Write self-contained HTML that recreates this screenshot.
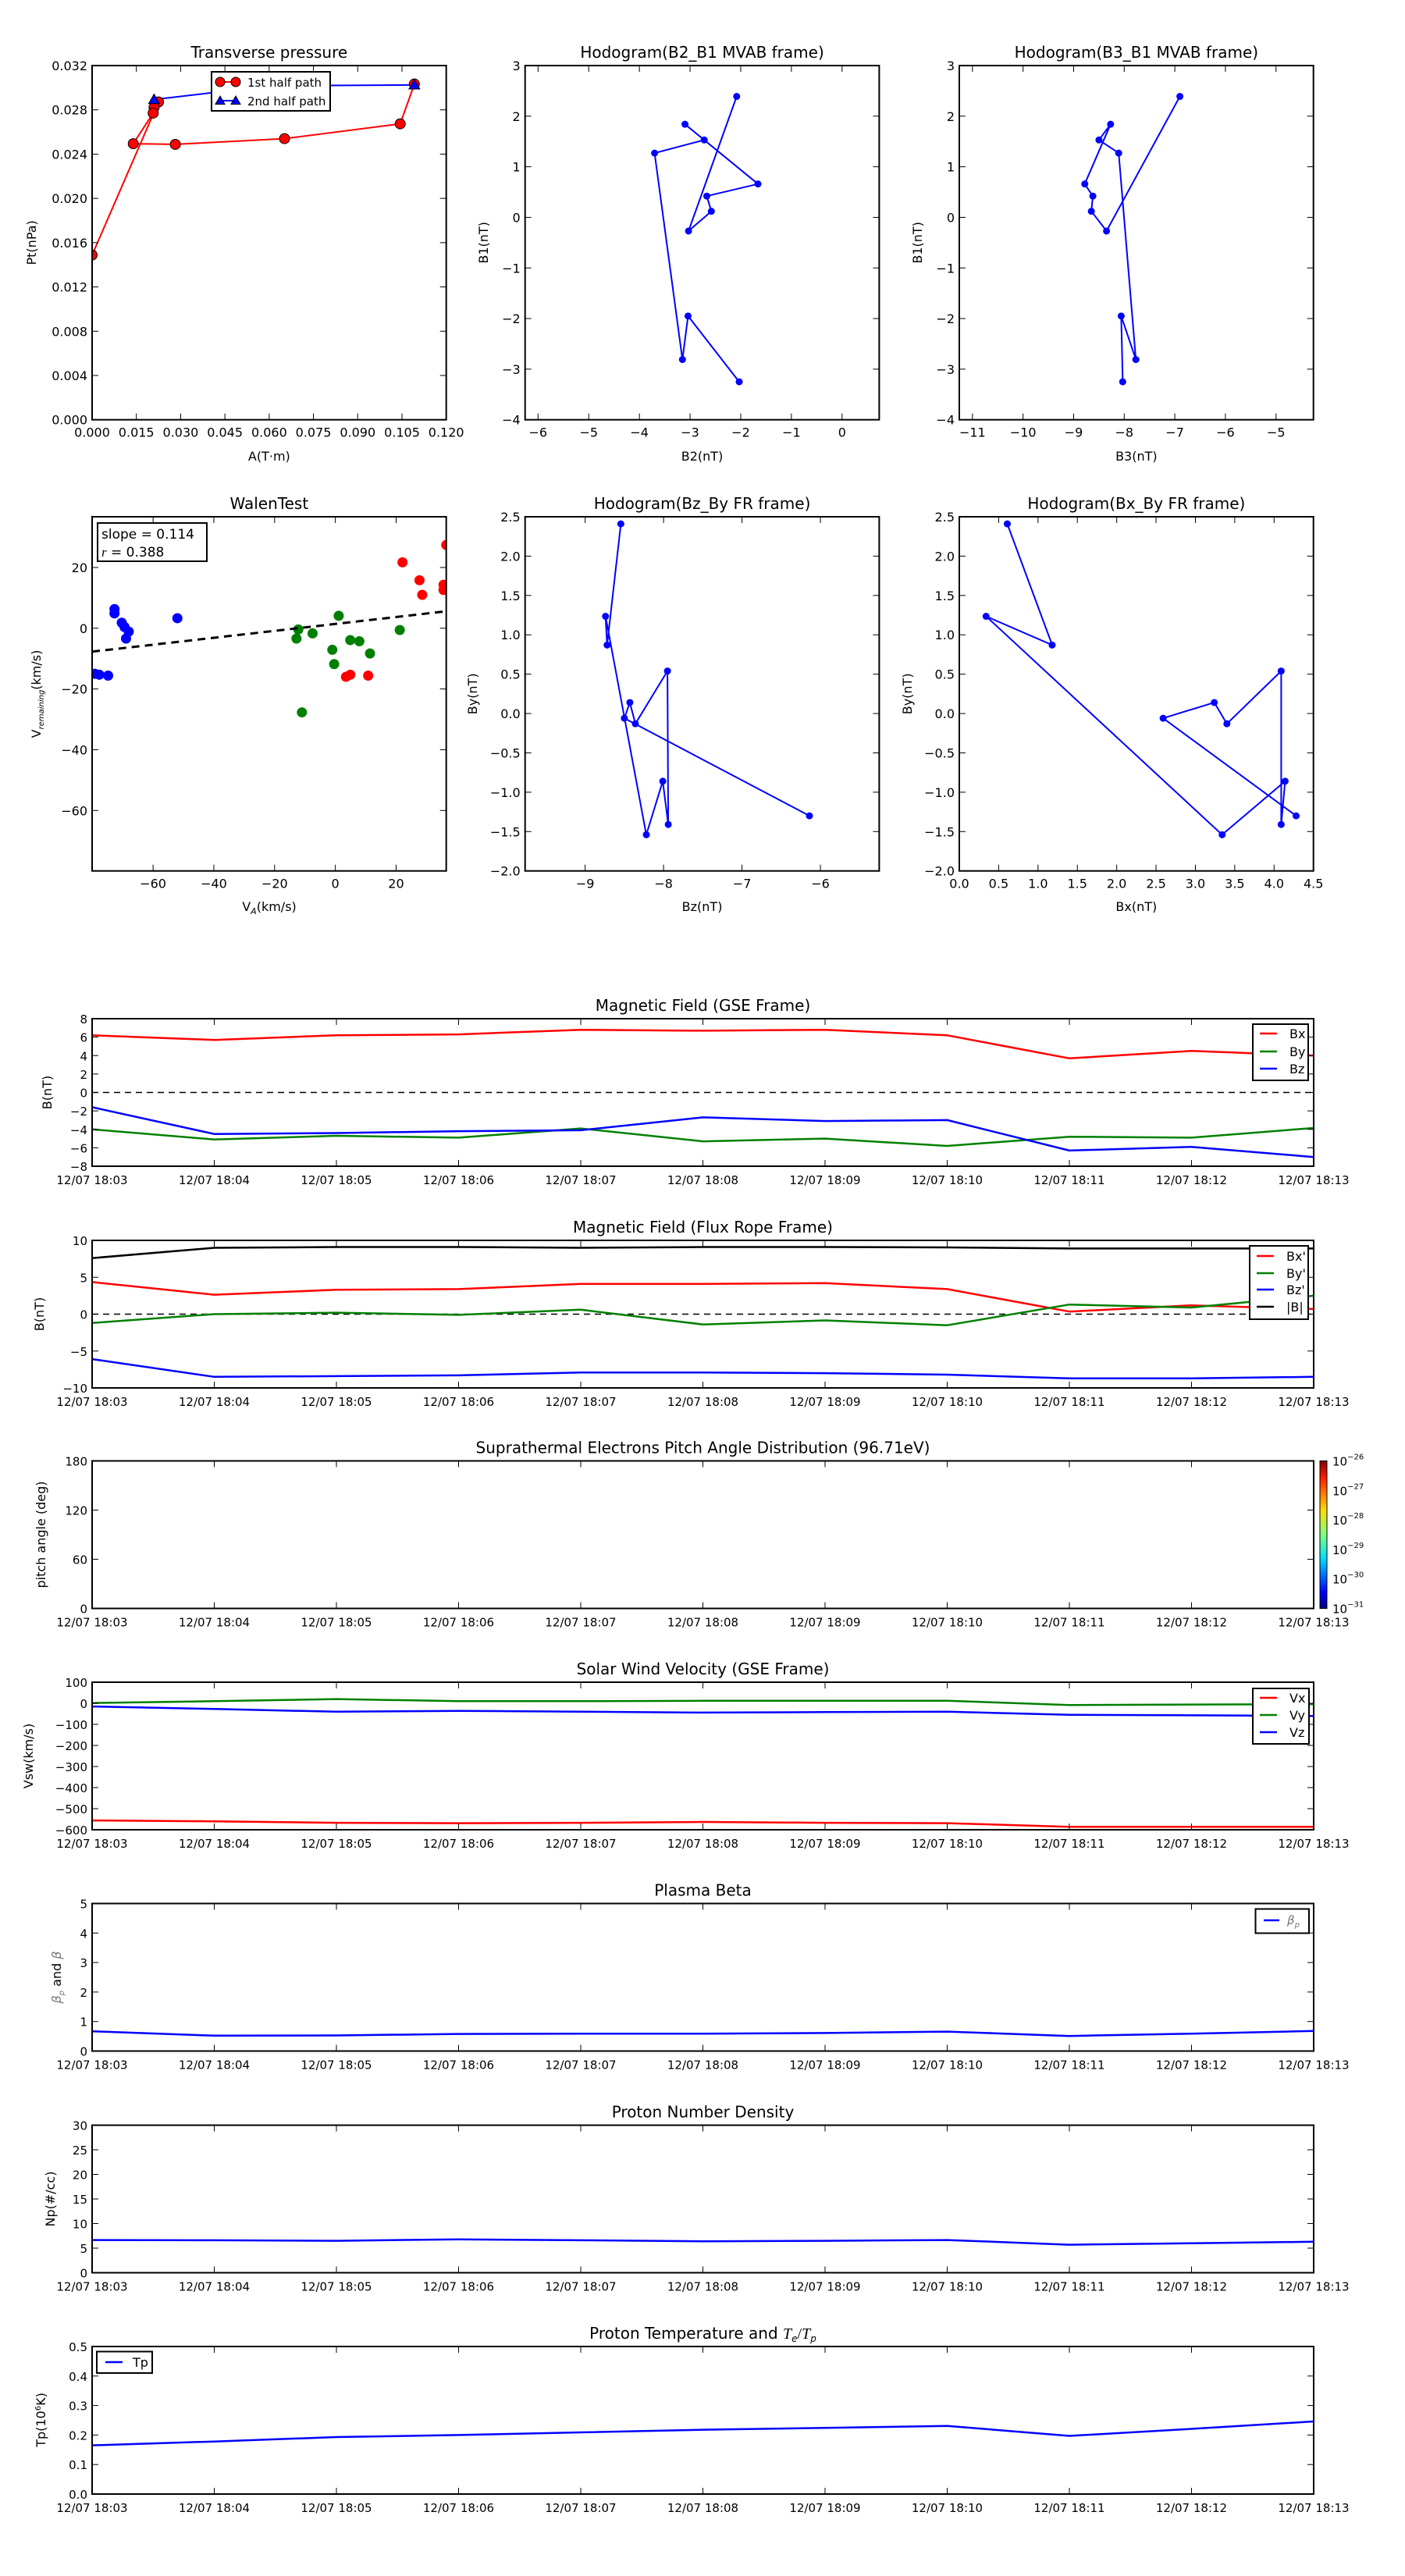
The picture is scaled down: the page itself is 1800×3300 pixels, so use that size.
<!DOCTYPE html>
<html><head><meta charset="utf-8"><title>Flux rope analysis</title>
<style>
html,body{margin:0;padding:0;background:#fff;}
svg{display:block;font-family:"DejaVu Sans","Liberation Sans",sans-serif;}
</style></head>
<body>
<svg id="fig" width="1800" height="3300" viewBox="0 0 1800 3300" xmlns="http://www.w3.org/2000/svg">
<defs>
<linearGradient id="jet" x1="0" y1="1" x2="0" y2="0">
<stop offset="0" stop-color="#00007f"/><stop offset="0.11" stop-color="#0000ff"/><stop offset="0.34" stop-color="#00e0ff"/><stop offset="0.5" stop-color="#7fff7f"/><stop offset="0.66" stop-color="#ffe000"/><stop offset="0.89" stop-color="#ff1a00"/><stop offset="1" stop-color="#7f0000"/>
</linearGradient>
</defs>
</svg>
<script>
// ---------- data ----------
const tpRedA=[0,0.0225,0.0210,0.0207,0.01395,0.0282,0.0652,0.1044,0.1092];
const tpRedPt=[0.01488,0.02871,0.02822,0.02771,0.02494,0.02488,0.0254,0.02674,0.03033];
const tpBlueA=[0.0210,0.0404,0.0800,0.1092];
const tpBluePt=[0.02893,0.02954,0.03020,0.03025];
const tpXTicks=[0,0.015,0.03,0.045,0.06,0.075,0.09,0.105,0.12];
const tpYTicks=[0,0.004,0.008,0.012,0.016,0.02,0.024,0.028,0.032];

const mvB1=[2.39,-0.27,0.12,0.42,0.66,1.84,1.53,1.27,-2.81,-1.95,-3.25];
const mvB2=[-2.08,-3.03,-2.58,-2.67,-1.66,-3.10,-2.72,-3.70,-3.15,-3.04,-2.03];
const mvB3=[-6.90,-8.35,-8.65,-8.62,-8.78,-8.27,-8.50,-8.11,-7.77,-8.06,-8.03];

const walenBlueX=[-72.7,-72.7,-70.3,-69.4,-68,-68.9,-52,-79.2,-77.7,-74.8];
const walenBlueY=[6.3,4.9,1.8,0.4,-1.1,-3.4,3.3,-15,-15.3,-15.6];
const walenGreenX=[-12.2,-12.8,-7.5,1.1,-1,-0.4,4.9,7.9,11.4,21.2,-11];
const walenGreenY=[-0.4,-3.4,-1.7,4.1,-7.1,-11.8,-3.9,-4.3,-8.3,-0.6,-27.7];
const walenRedX=[22.1,27.7,28.6,35.6,35.6,36.5,3.5,4.9,10.8];
const walenRedY=[21.7,15.8,11,14.3,12.6,27.4,-16,-15.3,-15.6];
const walenSlope=0.114;
const walenIntercept=1.42;

const frHodoBx=[0.61,1.18,0.34,3.34,4.14,4.09,4.09,3.40,3.24,2.59,4.28];
const frHodoBy=[2.41,0.87,1.235,-1.54,-0.86,-1.41,0.54,-0.13,0.14,-0.06,-1.30];
const frHodoBz=[-8.545,-8.72,-8.74,-8.22,-8.01,-7.94,-7.95,-8.36,-8.43,-8.5,-6.14];

const minutes=[0,1,2,3,4,5,6,7,8,9,10];
const timeLabels=['12/07 18:03','12/07 18:04','12/07 18:05','12/07 18:06','12/07 18:07','12/07 18:08','12/07 18:09','12/07 18:10','12/07 18:11','12/07 18:12','12/07 18:13'];
const gseBx=[6.2,5.7,6.2,6.3,6.8,6.7,6.8,6.2,3.7,4.5,4.0];
const gseBy=[-4.0,-5.1,-4.7,-4.9,-3.9,-5.3,-5.0,-5.8,-4.8,-4.9,-3.85];
const gseBz=[-1.6,-4.5,-4.4,-4.2,-4.1,-2.7,-3.1,-3.0,-6.3,-5.9,-7.0];
const frBx=[4.35,2.64,3.3,3.4,4.1,4.1,4.2,3.4,0.35,1.2,0.7];
const frBy=[-1.2,0,0.2,-0.1,0.6,-1.4,-0.85,-1.5,1.3,0.9,2.5];
const frBz=[-6.1,-8.5,-8.4,-8.3,-7.9,-7.9,-8.0,-8.2,-8.7,-8.7,-8.5];
const frBt=[7.6,9.0,9.1,9.1,9.0,9.1,9.1,9.05,8.9,8.9,8.9];
const swVx=[-556,-560,-567,-569,-567,-563,-567,-569,-586,-586,-586];
const swVy=[1,10,20,10,10,12,12,12,-8,-6,-4];
const swVz=[-15,-27,-40,-36,-40,-44,-42,-40,-55,-57,-60];
const betaP=[0.67,0.52,0.53,0.58,0.59,0.59,0.61,0.66,0.51,0.59,0.68];
const density=[6.65,6.6,6.5,6.8,6.6,6.4,6.5,6.65,5.7,6.0,6.3];
const tempP=[0.165,0.178,0.193,0.200,0.209,0.218,0.224,0.231,0.197,0.221,0.246];
const cbarExps=['-31','-30','-29','-28','-27','-26'];

// ---------- helpers ----------
const NS='http://www.w3.org/2000/svg';
const svg=document.getElementById('fig');
function mk(tag,attrs,parent,name,inter){
  const e=document.createElementNS(NS,tag);
  for(const k in attrs) e.setAttribute(k,attrs[k]);
  
  
  (parent||svg).appendChild(e);
  return e;
}
function txt(parent,x,y,s,size,anchor,name,extra){
  const a={x:x,y:y,'font-size':size,'text-anchor':anchor||'middle',fill:'#000'};
  if(extra) for(const k in extra) a[k]=extra[k];
  const t=mk('text',a,parent,name,false);
  t.textContent=s;
  return t;
}
function fmtMinus(s){return String(s).replace('-','\u2212');}
let clipId=0;
function panel(o){
  const g=mk('g',{},svg,o.name+'-panel',false);
  const sx=v=>o.x+(v-o.xmin)/(o.xmax-o.xmin)*o.w;
  const sy=v=>o.y+o.h-(v-o.ymin)/(o.ymax-o.ymin)*o.h;
  const cid='clip'+(clipId++);
  const cp=mk('clipPath',{id:cid},g,o.name+'-clip',false);
  mk('rect',{x:o.x,y:o.y,width:o.w,height:o.h},cp,o.name+'-clip-rect',false);
  const plot=mk('g',{'clip-path':'url(#'+cid+')'},g,o.name+'-plot-area',false);
  const tl=8, fs=o.fs||16;
  (o.xticks||[]).forEach((v,i)=>{
    const X=sx(v);
    mk('line',{x1:X,y1:o.y+o.h,x2:X,y2:o.y+o.h-tl,stroke:'#000','stroke-width':1},g,'x-tick',false);
    mk('line',{x1:X,y1:o.y,x2:X,y2:o.y+tl,stroke:'#000','stroke-width':1},g,'x-tick-top',false);
    const lab=o.xlabels?o.xlabels[i]:fmtMinus(o.xfmt?o.xfmt(v):v);
    txt(g,X,o.y+o.h+(o.xlabOff||22),lab,fs,'middle','x-tick-label');
  });
  (o.yticks||[]).forEach(v=>{
    const Y=sy(v);
    mk('line',{x1:o.x,y1:Y,x2:o.x+tl,y2:Y,stroke:'#000','stroke-width':1},g,'y-tick',false);
    mk('line',{x1:o.x+o.w,y1:Y,x2:o.x+o.w-tl,y2:Y,stroke:'#000','stroke-width':1},g,'y-tick-right',false);
    txt(g,o.x-6,Y+6,fmtMinus(o.yfmt?o.yfmt(v):v),fs,'end','y-tick-label');
  });
  if(o.title) txt(g,o.x+o.w/2,o.y-10,o.title,20,'middle','chart-title');
  if(o.xlabel) txt(g,o.x+o.w/2,o.xlabY,o.xlabel,16,'middle','x-axis-title');
  if(o.ylabel){
    const cy=o.y+o.h/2;
    txt(g,o.ylabX,cy,o.ylabel,16,'middle','y-axis-title',{transform:'rotate(-90 '+o.ylabX+' '+cy+')'});
  }
  return {g,plot,sx,sy,finish:()=>mk('rect',{x:o.x,y:o.y,width:o.w,height:o.h,fill:'none',stroke:'#000','stroke-width':2},g,o.name+'-frame',false)};
}
function polyline(P,xs,ys,color,w,name,dash){
  const pts=xs.map((v,i)=>P.sx(v).toFixed(1)+','+P.sy(ys[i]).toFixed(1)).join(' ');
  const a={points:pts,fill:'none',stroke:color,'stroke-width':w,'stroke-linejoin':'round'};
  if(dash) a['stroke-dasharray']=dash;
  return mk('polyline',a,P.plot,name,false);
}
function dots(P,xs,ys,color,r,name,stroke){
  xs.forEach((v,i)=>{
    const a={cx:P.sx(v),cy:P.sy(ys[i]),r:r,fill:color};
    if(stroke){a.stroke='#000';a['stroke-width']=1;}
    mk('circle',a,P.plot,name,false);
  });
}
function tri(parent,cx,cy,s,name){
  return mk('polygon',{points:(cx)+','+(cy-s)+' '+(cx-s)+','+(cy+s*0.75)+' '+(cx+s)+','+(cy+s*0.75),fill:'#0000ff',stroke:'#000','stroke-width':1},parent,name,false);
}
const W=453.7;
const C1=118, C2=672.7, C3=1229;
const R1=84, R2=662;

// ---------- Transverse pressure ----------
(function(){
  const P=panel({name:'transverse-pressure',x:C1,y:R1,w:W,h:W,xmin:0,xmax:0.12,ymin:0,ymax:0.032,
    xticks:tpXTicks,yticks:tpYTicks,xfmt:v=>v.toFixed(3),yfmt:v=>v.toFixed(3),
    title:'Transverse pressure',xlabel:'A(T\u00b7m)',xlabY:590,ylabel:'Pt(nPa)',ylabX:46});
  polyline(P,tpRedA,tpRedPt,'#ff0000',2,'first-half-path-line');
  polyline(P,tpBlueA,tpBluePt,'#0000ff',2,'second-half-path-line');
  dots(P,tpRedA,tpRedPt,'#ff0000',6.5,'first-half-path-marker',true);
  [0,tpBlueA.length-1].forEach(i=>tri(P.plot,P.sx(tpBlueA[i]),P.sy(tpBluePt[i]),7,'second-half-path-marker'));
  P.finish();
  const L=mk('g',{},svg,'pressure-legend',false);
  mk('rect',{x:271,y:92,width:152,height:50,fill:'#fff',stroke:'#000','stroke-width':2},L,'legend-box',false);
  mk('line',{x1:282,y1:105,x2:302,y2:105,stroke:'#ff0000','stroke-width':2},L,'legend-line-first',false);
  mk('circle',{cx:282,cy:105,r:6,fill:'#ff0000',stroke:'#000'},L,'legend-marker-first',false);
  mk('circle',{cx:302,cy:105,r:6,fill:'#ff0000',stroke:'#000'},L,'legend-marker-first',false);
  txt(L,317,111,'1st half path',15,'start','legend-entry-first');
  mk('line',{x1:282,y1:129,x2:302,y2:129,stroke:'#0000ff','stroke-width':2},L,'legend-line-second',false);
  tri(L,282,129,6,'legend-marker-second');
  tri(L,302,129,6,'legend-marker-second');
  txt(L,317,135,'2nd half path',15,'start','legend-entry-second');
})();

// ---------- MVAB hodograms ----------
(function(){
  const P=panel({name:'hodogram-b2-b1',x:C2,y:R1,w:W,h:W,xmin:-6.256,xmax:0.733,ymin:-4,ymax:3,
    xticks:[-6,-5,-4,-3,-2,-1,0],yticks:[-4,-3,-2,-1,0,1,2,3],
    title:'Hodogram(B2_B1 MVAB frame)',xlabel:'B2(nT)',xlabY:590,ylabel:'B1(nT)',ylabX:625});
  polyline(P,mvB2,mvB1,'#0000ff',2,'hodogram-b2-b1-line');
  dots(P,mvB2,mvB1,'#0000ff',4.5,'hodogram-b2-b1-point');
  P.finish();
  const Q=panel({name:'hodogram-b3-b1',x:C3,y:R1,w:W,h:W,xmin:-11.26,xmax:-4.26,ymin:-4,ymax:3,
    xticks:[-11,-10,-9,-8,-7,-6,-5],yticks:[-4,-3,-2,-1,0,1,2,3],
    title:'Hodogram(B3_B1 MVAB frame)',xlabel:'B3(nT)',xlabY:590,ylabel:'B1(nT)',ylabX:1181});
  polyline(Q,mvB3,mvB1,'#0000ff',2,'hodogram-b3-b1-line');
  dots(Q,mvB3,mvB1,'#0000ff',4.5,'hodogram-b3-b1-point');
  Q.finish();
})();

// ---------- Walen test ----------
(function(){
  const P=panel({name:'walen-test',x:C1,y:R2,w:W,h:W,xmin:-80.07,xmax:36.5,ymin:-79.9,ymax:36.7,
    xticks:[-60,-40,-20,0,20],yticks:[-60,-40,-20,0,20],
    title:'WalenTest',xlabel:'',xlabY:0,ylabel:'',ylabX:0});
  dots(P,walenBlueX,walenBlueY,'#0000ff',6.5,'walen-point-blue');
  dots(P,walenGreenX,walenGreenY,'#008000',6.5,'walen-point-green');
  dots(P,walenRedX,walenRedY,'#ff0000',6.5,'walen-point-red');
  const fx=[-80.07,36.5];
  polyline(P,fx,fx.map(v=>walenSlope*v+walenIntercept),'#000',3,'walen-fit-line','10,7');
  P.finish();
  const xl=txt(svg,345,1167,'V',16,'middle','x-axis-title');
  const ts=document.createElementNS(NS,'tspan');ts.setAttribute('font-size','11');ts.setAttribute('font-style','italic');ts.setAttribute('dy','4');ts.textContent='A';xl.appendChild(ts);
  const ts2=document.createElementNS(NS,'tspan');ts2.setAttribute('dy','-4');ts2.textContent='(km/s)';xl.appendChild(ts2);
  const yl=txt(svg,52,889,'V',16,'middle','y-axis-title',{transform:'rotate(-90 52 889)'});
  const t3=document.createElementNS(NS,'tspan');t3.setAttribute('font-size','10');t3.setAttribute('font-style','italic');t3.setAttribute('dy','4');t3.textContent='remaining';yl.appendChild(t3);
  const t4=document.createElementNS(NS,'tspan');t4.setAttribute('dy','-4');t4.textContent='(km/s)';yl.appendChild(t4);
  const L=mk('g',{},svg,'walen-stats-box',false);
  mk('rect',{x:125,y:670,width:140,height:49,fill:'#fff',stroke:'#000','stroke-width':2},L,'stats-box',false);
  txt(L,130,690,'slope = 0.114',17,'start','slope-text');
  const r=txt(L,130,713,'',17,'start','r-text');
  const ri=document.createElementNS(NS,'tspan');ri.setAttribute('font-style','italic');ri.setAttribute('font-family','Liberation Serif, serif');ri.textContent='r';r.appendChild(ri);
  const rv=document.createElementNS(NS,'tspan');rv.textContent=' = 0.388';r.appendChild(rv);
})();

// ---------- FR hodograms ----------
(function(){
  const f1=v=>v.toFixed(1);
  const P=panel({name:'hodogram-bz-by',x:C2,y:R2,w:W,h:W,xmin:-9.766,xmax:-5.25,ymin:-2,ymax:2.5,
    xticks:[-9,-8,-7,-6],yticks:[-2,-1.5,-1,-0.5,0,0.5,1,1.5,2,2.5],yfmt:f1,
    title:'Hodogram(Bz_By FR frame)',xlabel:'Bz(nT)',xlabY:1167,ylabel:'By(nT)',ylabX:611});
  polyline(P,frHodoBz,frHodoBy,'#0000ff',2,'hodogram-bz-by-line');
  dots(P,frHodoBz,frHodoBy,'#0000ff',4.5,'hodogram-bz-by-point');
  P.finish();
  const Q=panel({name:'hodogram-bx-by',x:C3,y:R2,w:W,h:W,xmin:0,xmax:4.5,ymin:-2,ymax:2.5,
    xticks:[0,0.5,1,1.5,2,2.5,3,3.5,4,4.5],xfmt:f1,yticks:[-2,-1.5,-1,-0.5,0,0.5,1,1.5,2,2.5],yfmt:f1,
    title:'Hodogram(Bx_By FR frame)',xlabel:'Bx(nT)',xlabY:1167,ylabel:'By(nT)',ylabX:1168});
  polyline(Q,frHodoBx,frHodoBy,'#0000ff',2,'hodogram-bx-by-line');
  dots(Q,frHodoBx,frHodoBy,'#0000ff',4.5,'hodogram-bx-by-point');
  Q.finish();
})();

// ---------- time series ----------
function tpanel(name,y,ymin,ymax,yticks,title,ylabel,ylabX,yfmt){
  return panel({name:name,x:118,y:y,w:1565,h:189,xmin:0,xmax:10,ymin:ymin,ymax:ymax,
    xticks:minutes,xlabels:timeLabels,yticks:yticks,yfmt:yfmt,fs:15,xlabOff:23,
    title:title,ylabel:ylabel,ylabX:ylabX});
}
function legend(name,x,y,w,h,entries,lineX,textX){
  const L=mk('g',{},svg,name,false);
  mk('rect',{x:x,y:y,width:w,height:h,fill:'#fff',stroke:'#000','stroke-width':2},L,'legend-box',false);
  entries.forEach(e=>{
    mk('line',{x1:lineX,y1:e[2],x2:lineX+22,y2:e[2],stroke:e[1],'stroke-width':2.5},L,'legend-line',false);
    txt(L,textX,e[2]+6,e[0],16,'start','legend-entry');
  });
  return L;
}
(function(){
  const P=tpanel('magnetic-field-gse',1305,-8,8,[-8,-6,-4,-2,0,2,4,6,8],'Magnetic Field (GSE Frame)','B(nT)',66);
  polyline(P,[0,10],[0,0],'#000',1.5,'zero-line','8,6');
  polyline(P,minutes,gseBx,'#ff0000',2.5,'series-bx');
  polyline(P,minutes,gseBy,'#008000',2.5,'series-by');
  polyline(P,minutes,gseBz,'#0000ff',2.5,'series-bz');
  P.finish();
  legend('gse-legend',1605,1312,71,72,[['Bx','#ff0000',1324],['By','#008000',1347],['Bz','#0000ff',1369]],1614,1652);
})();
(function(){
  const P=tpanel('magnetic-field-fr',1589,-10,10,[-10,-5,0,5,10],'Magnetic Field (Flux Rope Frame)','B(nT)',56);
  polyline(P,[0,10],[0,0],'#000',1.5,'zero-line','8,6');
  polyline(P,minutes,frBx,'#ff0000',2.5,'series-bx-prime');
  polyline(P,minutes,frBy,'#008000',2.5,'series-by-prime');
  polyline(P,minutes,frBz,'#0000ff',2.5,'series-bz-prime');
  polyline(P,minutes,frBt,'#000',2.5,'series-btotal');
  P.finish();
  legend('fr-legend',1601,1596,75,94,[["Bx'",'#ff0000',1609],["By'",'#008000',1631],["Bz'",'#0000ff',1652],['|B|','#000',1674]],1610,1648);
})();
(function(){
  const P=tpanel('pitch-angle',1871.5,0,180,[0,60,120,180],'Suprathermal Electrons Pitch Angle Distribution (96.71eV)','pitch angle (deg)',58);
  P.finish();
  const C=mk('g',{},svg,'colorbar',false);
  mk('rect',{x:1691,y:1871.5,width:9,height:189,fill:'url(#jet)',stroke:'#000','stroke-width':1},C,'colorbar-gradient',false);
  cbarExps.forEach((e,i)=>{
    const Y=2060.5-i*189/5;
    const t=txt(C,1707,Y+6,'10',15,'start','colorbar-label');
    const s=document.createElementNS(NS,'tspan');s.setAttribute('font-size','10');s.setAttribute('dy','-8');s.textContent=fmtMinus(e);t.appendChild(s);
  });
})();
(function(){
  const P=tpanel('solar-wind-velocity',2155,-600,100,[-600,-500,-400,-300,-200,-100,0,100],'Solar Wind Velocity (GSE Frame)','Vsw(km/s)',42);
  polyline(P,minutes,swVx,'#ff0000',2.5,'series-vx');
  polyline(P,minutes,swVy,'#008000',2.5,'series-vy');
  polyline(P,minutes,swVz,'#0000ff',2.5,'series-vz');
  P.finish();
  legend('velocity-legend',1605,2163,72,71,[['Vx','#ff0000',2175],['Vy','#008000',2197],['Vz','#0000ff',2219]],1614,1652);
})();
(function(){
  const P=tpanel('plasma-beta',2438.5,0,5,[0,1,2,3,4,5],'Plasma Beta','',0);
  polyline(P,minutes,betaP,'#0000ff',2.5,'series-beta-p');
  P.finish();
  const yl=txt(svg,78,2533,'',16,'middle','y-axis-title',{transform:'rotate(-90 78 2533)'});
  const a=document.createElementNS(NS,'tspan');a.setAttribute('font-style','italic');a.setAttribute('fill','#777');a.textContent='\u03b2';yl.appendChild(a);
  const b=document.createElementNS(NS,'tspan');b.setAttribute('font-size','10');b.setAttribute('font-style','italic');b.setAttribute('fill','#777');b.setAttribute('dy','4');b.textContent='p';yl.appendChild(b);
  const c=document.createElementNS(NS,'tspan');c.setAttribute('dy','-4');c.textContent=' and ';yl.appendChild(c);
  const d=document.createElementNS(NS,'tspan');d.setAttribute('font-style','italic');d.setAttribute('fill','#777');d.textContent='\u03b2';yl.appendChild(d);
  const L=legend('beta-legend',1608.5,2445.5,68.5,31,[],1619,1647);
  mk('line',{x1:1619,y1:2460,x2:1639,y2:2460,stroke:'#0000ff','stroke-width':2.5},L,'legend-line',false);
  const bt=txt(L,1649,2465,'',15,'start','legend-entry');
  const b1=document.createElementNS(NS,'tspan');b1.setAttribute('font-style','italic');b1.setAttribute('fill','#777');b1.textContent='\u03b2';bt.appendChild(b1);
  const b2=document.createElementNS(NS,'tspan');b2.setAttribute('font-size','10');b2.setAttribute('font-style','italic');b2.setAttribute('fill','#777');b2.setAttribute('dy','4');b2.textContent='p';bt.appendChild(b2);
})();
(function(){
  const P=tpanel('proton-density',2722.5,0,30,[0,5,10,15,20,25,30],'Proton Number Density','Np(#/cc)',70);
  polyline(P,minutes,density,'#0000ff',2.5,'series-density');
  P.finish();
})();
(function(){
  const P=tpanel('proton-temperature',3006,0,0.5,[0,0.1,0.2,0.3,0.4,0.5],'','',0,v=>v.toFixed(1));
  polyline(P,minutes,tempP,'#0000ff',2.5,'series-tp');
  P.finish();
  const t=txt(svg,900.5,2996,'Proton Temperature and ',20,'middle','chart-title');
  const a=document.createElementNS(NS,'tspan');a.setAttribute('font-style','italic');a.setAttribute('font-family','Liberation Serif, serif');a.textContent='T';t.appendChild(a);
  const b=document.createElementNS(NS,'tspan');b.setAttribute('font-size','12');b.setAttribute('font-style','italic');b.setAttribute('dy','4');b.textContent='e';t.appendChild(b);
  const c=document.createElementNS(NS,'tspan');c.setAttribute('dy','-4');c.setAttribute('font-family','Liberation Serif, serif');c.textContent='/';t.appendChild(c);
  const d=document.createElementNS(NS,'tspan');d.setAttribute('font-style','italic');d.setAttribute('font-family','Liberation Serif, serif');d.textContent='T';t.appendChild(d);
  const e=document.createElementNS(NS,'tspan');e.setAttribute('font-size','12');e.setAttribute('font-style','italic');e.setAttribute('dy','4');e.textContent='p';t.appendChild(e);
  const yl=txt(svg,58,3100,'Tp(10',16,'middle','y-axis-title',{transform:'rotate(-90 58 3100)'});
  const s=document.createElementNS(NS,'tspan');s.setAttribute('font-size','10');s.setAttribute('dy','-6');s.textContent='6';yl.appendChild(s);
  const s2=document.createElementNS(NS,'tspan');s2.setAttribute('dy','6');s2.textContent='K)';yl.appendChild(s2);
  legend('tp-legend',124,3012.5,71,27.5,[['Tp','#0000ff',3026]],135,170);
})();
</script>
</body></html>
